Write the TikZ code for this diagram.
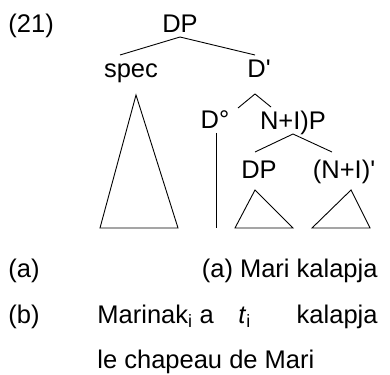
\documentclass[tikz,border=0pt]{standalone}
\usepackage{fontspec}
\setmainfont{Liberation Sans}[Ligatures=TeXOff]
\usetikzlibrary{positioning}

\begin{document}
\begin{tikzpicture}[x=1pt, y=-1pt, line width=0.9pt,
    word/.style={inner sep=0pt, anchor=base, font=\fontsize{25.5}{30}\selectfont},
    wordl/.style={word, anchor=base west},
    wordr/.style={word, anchor=base east}]
    \useasboundingbox (0,0) rectangle (390,374);

    % labels of the tree
    \node[wordl] (num) at (8,33) {(21)};
    \node[word] (dp) at (180,33) {DP};
    \node[word] (spec) at (131,78) {spec};
    \node[word] (dbar) at (259,78) {D'};
    \node[word] (dzero) at (215,129) {D°};
    \node[word] (nip) at (293,130) {N+I)P};
    \node[word] (dpl) at (259,178) {DP};
    \node[word] (nibar) at (344,178) {(N+I)'};

    % branch points
    \coordinate (dp-foot) at (180,37);
    \coordinate (spec-top) at (120,55);
    \coordinate (dbar-top) at (255,55);
    \coordinate (dbar-foot) at (255,94);
    \coordinate (dzero-top) at (238,108);
    \coordinate (nip-top) at (271,107);
    \coordinate (nip-foot) at (293,134);
    \coordinate (dpl-top) at (255,152);
    \coordinate (nibar-top) at (332,152);

    \draw (dp-foot) -- (spec-top);
    \draw (dp-foot) -- (dbar-top);
    \draw (dzero-top) -- (dbar-foot) -- (nip-top);
    \draw (dpl-top) -- (nip-foot) -- (nibar-top);

    % triangles and the bare head
    \coordinate (spec-apex) at (136,95);
    \draw (spec-apex) -- (100,228) -- (178,228) -- cycle;
    \coordinate (dzero-foot) at (216,133);
    \draw (dzero-foot) -- (216,228);
    \coordinate (dpl-apex) at (255,190);
    \draw (dpl-apex) -- (235,228) -- (293,228) -- cycle;
    \coordinate (nibar-apex) at (351,190);
    \draw (nibar-apex) -- (312,228) -- (370,228) -- cycle;

    % glosses
    \node[wordl] (a) at (8,277) {(a)};
    \node[wordr] (agloss) at (378,277) {(a) Mari kalapja};
    \node[wordl] (b) at (8,323) {(b)};
    \node[wordl] (marinak) at (97,323) {Marinak\textsubscript{i} a};
    \node[wordl] (trace) at (238,323) {\textit{t}\textsubscript{i}};
    \node[wordr] (kalapja) at (378,323) {kalapja};
    \node[wordl] (chapeau) at (97,368) {le chapeau de Mari};
\end{tikzpicture}
\end{document}
